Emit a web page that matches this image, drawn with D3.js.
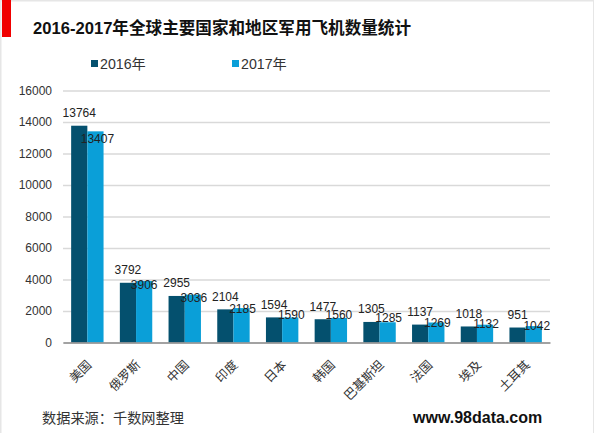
<!DOCTYPE html>
<html>
<head>
<meta charset="utf-8">
<script src="https://cdn.jsdelivr.net/npm/d3@7/dist/d3.min.js"></script>
<style>
html, body { margin: 0; padding: 0; background: #fff; }
svg { display: block; }
text { font-family: "Liberation Sans", "Noto Sans CJK SC", sans-serif; }
</style>
</head>
<body>
<div id="chart"></div>
<script>
const categories = ['美国', '俄罗斯', '中国', '印度', '日本', '韩国', '巴基斯坦', '法国', '埃及', '土耳其'];
const values2016 = [13764, 3792, 2955, 2104, 1594, 1477, 1305, 1137, 1018, 951];
const values2017 = [13407, 3906, 3036, 2185, 1590, 1560, 1285, 1269, 1132, 1042];
const seriesNames = ['2016年', '2017年'];
const yTicks = [0, 2000, 4000, 6000, 8000, 10000, 12000, 14000, 16000];
const colors = ['#04506e', '#0a9fd8'];

const width = 600, height = 433;
const svg = d3.select('#chart').append('svg')
    .attr('width', width)
    .attr('height', height);

// page frame of the original slide
svg.append('rect').attr('x', 0).attr('y', 0).attr('width', 593).attr('height', 1.5).attr('fill', '#e6e6e6');
svg.append('rect').attr('x', 0).attr('y', 0).attr('width', 1.5).attr('height', 433).attr('fill', '#e6e6e6');
svg.append('rect').attr('x', 593).attr('y', 0).attr('width', 1).attr('height', 433).attr('fill', '#e6e6e6');
svg.append('rect').attr('x', 2).attr('y', 0).attr('width', 9).attr('height', 37).attr('fill', '#f00000');

svg.append('text')
    .attr('x', 33).attr('y', 34)
    .attr('font-size', 16.6).attr('font-weight', 'bold').attr('fill', '#111')
    .text('2016-2017年全球主要国家和地区军用飞机数量统计');

const x = d3.scaleBand().domain(categories).range([63, 550]);
const y = d3.scaleLinear().domain([0, 16000]).range([342.5, 90.5]);
const barW = 16.2;

// y axis, gridlines come from the tick lines
const yAxis = d3.axisLeft(y).tickValues(yTicks).tickSize(-487).tickPadding(11).tickFormat(d3.format('d'));
const yG = svg.append('g').attr('transform', 'translate(63,0)').call(yAxis);
yG.select('.domain').remove();
yG.selectAll('line').attr('stroke', '#d9d9d9').attr('stroke-width', 1.4);
yG.selectAll('text').attr('font-size', 12).attr('fill', '#333')
    .style('font-family', '"Liberation Sans", sans-serif');

// bars
[values2016, values2017].forEach((vals, s) => {
    svg.append('g').selectAll('rect').data(vals).join('rect')
        .attr('x', (d, i) => x(categories[i]) + x.bandwidth() / 2 - barW + s * barW)
        .attr('y', d => y(d))
        .attr('width', barW)
        .attr('height', d => y(0) - y(d))
        .attr('fill', colors[s]);
});

// baseline
const xAxis = d3.axisBottom(x).tickSize(0).tickPadding(0);
const xG = svg.append('g').attr('transform', `translate(0,${y(0)})`).call(xAxis);
xG.select('.domain').attr('stroke', '#8c8c8c').attr('stroke-width', 1.4);
xG.selectAll('text')
    .attr('font-size', 12.5).attr('fill', '#333')
    .attr('text-anchor', 'end')
    .attr('dy', '0.35em')
    .attr('transform', 'translate(2,20) rotate(-45)');

// value labels, the 2017 ones were hand placed in the original so they get nudges
const nudgeX = [2, 0, 1, 1, 1, 0, 1, 1, 1, 3];
const nudgeY = [12, 8, 7, 5, 1.5, 1, 0, 4, 3.5, 4];
[values2016, values2017].forEach((vals, s) => {
    svg.append('g').selectAll('text').data(vals).join('text')
        .attr('x', (d, i) => x(categories[i]) + x.bandwidth() / 2 - barW / 2 + s * barW + (s ? nudgeX[i] : 0))
        .attr('y', (d, i) => y(d) + (s ? nudgeY[i] : -8.5))
        .attr('text-anchor', 'middle')
        .attr('font-size', 12).attr('fill', '#222')
        .text(d => d);
});

// legend
const legendX = [91, 232];
seriesNames.forEach((name, i) => {
    svg.append('rect').attr('x', legendX[i]).attr('y', 60).attr('width', 7).attr('height', 7).attr('fill', colors[i]);
    svg.append('text').attr('x', legendX[i] + 9).attr('y', 68.5)
        .attr('font-size', 14.2).attr('fill', '#333').text(name);
});

svg.append('text').attr('x', 42).attr('y', 422.5)
    .attr('font-size', 14.2).attr('fill', '#333').text('数据来源：千数网整理');
svg.append('text').attr('x', 413).attr('y', 422.5)
    .attr('font-size', 16).attr('font-weight', 'bold').attr('fill', '#111').text('www.98data.com');
</script>
</body>
</html>
